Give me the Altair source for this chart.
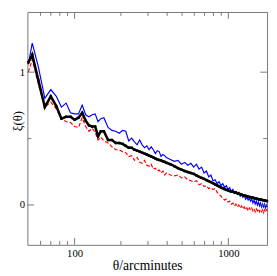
import altair as alt
import pandas as pd

theta = [50, 53, 58, 64, 70, 76, 82, 88, 94, 100, 106, 112, 118, 124, 130, 136, 142, 148,
         155, 165, 175, 185, 195, 205, 215, 225, 235, 245, 255, 265, 275, 285, 295, 305, 315,
         325, 335, 345, 355, 365, 375, 385, 395,
         420, 445, 470, 495, 520, 545, 570, 595, 620, 645, 670, 695, 720, 745, 770, 795, 820,
         845, 870, 895, 920, 945, 970, 995, 1020, 1045, 1070, 1095, 1120, 1145, 1170, 1195,
         1220, 1245, 1270, 1295, 1320, 1345, 1370, 1395, 1420, 1445, 1470, 1495, 1520, 1545,
         1570, 1595, 1620, 1645, 1670, 1695, 1720, 1745, 1770, 1785]

xi_blue = [1.058, 1.219, 1.044, 0.803, 0.869, 0.818, 0.737, 0.767, 0.694, 0.686, 0.686, 0.752,
           0.679, 0.664, 0.679, 0.686, 0.628, 0.650,
           0.657, 0.584, 0.562, 0.555, 0.540, 0.562, 0.555, 0.482, 0.504, 0.475, 0.453, 0.489,
           0.453, 0.431, 0.445, 0.416, 0.438, 0.416, 0.387, 0.409, 0.402, 0.365, 0.380, 0.372, 0.358,
           0.343, 0.329, 0.336, 0.307, 0.321, 0.299, 0.314, 0.285, 0.307, 0.270,
           0.285, 0.241, 0.256, 0.212, 0.226, 0.183, 0.190, 0.161, 0.175, 0.146,
           0.161, 0.131, 0.146, 0.117, 0.131, 0.102, 0.117, 0.088, 0.102, 0.080,
           0.095, 0.066, 0.080, 0.058, 0.073, 0.044, 0.058, 0.037, 0.051, 0.029,
           0.044, 0.015, 0.037, 0.007, 0.029, 0.000, 0.022, -0.007, 0.015, -0.015,
           0.007, -0.015, 0.007, -0.022, 0.000, -0.015]

xi_black = [1.073, 1.132, 0.942, 0.737, 0.818, 0.745, 0.650, 0.664, 0.664, 0.642, 0.657, 0.694,
            0.635, 0.599, 0.591, 0.591, 0.518, 0.555,
            0.555, 0.489, 0.489, 0.467, 0.467, 0.460, 0.445, 0.431, 0.431, 0.416, 0.409, 0.402,
            0.394, 0.387, 0.380, 0.372, 0.365, 0.358, 0.350, 0.343, 0.339, 0.336, 0.329, 0.325, 0.318,
            0.307, 0.292, 0.277, 0.266, 0.256, 0.248, 0.241, 0.234, 0.223, 0.212,
            0.204, 0.197, 0.188, 0.179, 0.172, 0.164, 0.155, 0.148, 0.140, 0.133,
            0.126, 0.120, 0.114, 0.110, 0.105, 0.102, 0.099, 0.096, 0.093, 0.089,
            0.085, 0.082, 0.078, 0.074, 0.072, 0.069, 0.066, 0.063, 0.061, 0.058,
            0.056, 0.054, 0.052, 0.050, 0.048, 0.046, 0.044, 0.042, 0.041, 0.039,
            0.037, 0.036, 0.034, 0.032, 0.031, 0.029]

xi_red = [1.000, 1.095, 0.913, 0.737, 0.774, 0.723, 0.650, 0.628, 0.621, 0.591, 0.584, 0.657,
          0.591, 0.555, 0.577, 0.548, 0.489, 0.511,
          0.482, 0.467, 0.438, 0.416, 0.416, 0.402, 0.394, 0.365, 0.372, 0.336, 0.358, 0.321,
          0.314, 0.336, 0.299, 0.292, 0.307, 0.270, 0.277, 0.256, 0.263, 0.241, 0.256, 0.226, 0.241,
          0.226, 0.219, 0.226, 0.204, 0.212, 0.190, 0.183, 0.175, 0.183, 0.153,
          0.161, 0.139, 0.146, 0.124, 0.131, 0.117, 0.124, 0.095, 0.080, 0.066,
          0.051, 0.037, 0.044, 0.022, 0.029, 0.007, 0.015, -0.007, 0.007, -0.015,
          0.000, -0.022, -0.007, -0.029, -0.015, -0.036, -0.022, -0.044, -0.022, -0.036,
          -0.022, -0.044, -0.029, -0.051, -0.029, -0.044, -0.029, -0.051, -0.036, -0.051,
          -0.036, -0.058, -0.036, -0.051, -0.036, -0.044]

x_major = [100, 1000]
x_minor = [60, 70, 80, 90, 200, 300, 400, 500, 600, 700, 800, 900]
y_major = [0, 1]
y_minor = [0.5]

W, H = 247, 240
FONT = "Liberation Serif"
FRAME = "#777777"

xscale = alt.Scale(type="log", domain=[49.3, 1786], nice=False)
yscale = alt.Scale(domain=[-0.3, 1.453], nice=False, zero=False)

xaxis = alt.Axis(values=x_major, format="d", title="θ/arcminutes", ticks=False,
                 domain=False, grid=False, labelFont=FONT, labelFontSize=11,
                 labelColor="black", labelPadding=3, titleFont=FONT,
                 titleFontSize=14, titleFontWeight="normal", titleColor="black",
                 titleY=25, titleBaseline="alphabetic")
yaxis = alt.Axis(values=y_major, title="ξ(θ)", ticks=False, domain=False, grid=False,
                 labelFont=FONT, labelFontSize=11, labelColor="black", labelPadding=3,
                 titleFont=FONT, titleFontSize=13, titleFontWeight="normal",
                 titleColor="black", titleX=-3, titleY=112)

df = pd.DataFrame({"theta": theta, "blue": xi_blue, "black": xi_black, "red": xi_red})


def line(field, **kw):
    return alt.Chart(df).mark_line(**kw).encode(
        x=alt.X("theta:Q", scale=xscale, axis=xaxis),
        y=alt.Y(f"{field}:Q", scale=yscale, axis=yaxis))


blue_line = line("blue", color="#0000ff", strokeWidth=1.2)
red_line = line("red", color="#ff0000", strokeWidth=1.2, strokeDash=[4, 2])
black_line = line("black", color="black", strokeWidth=2.6,
                  point=alt.OverlayMarkDef(shape="square", size=6, filled=True, color="black"))


def xticks(vals, y0, y1):
    d = pd.DataFrame({"theta": vals})
    return alt.Chart(d).mark_rule(color=FRAME, strokeWidth=1).encode(
        x=alt.X("theta:Q", scale=xscale, axis=xaxis), y=alt.value(y0), y2=alt.value(y1))


def yticks(vals, x0, x1):
    d = pd.DataFrame({"v": vals})
    return alt.Chart(d).mark_rule(color=FRAME, strokeWidth=1).encode(
        y=alt.Y("v:Q", scale=yscale, axis=yaxis), x=alt.value(x0), x2=alt.value(x1))


ticks = [
    xticks(x_major, H, H - 7), xticks(x_minor, H, H - 4),
    xticks(x_major, 0, 7), xticks(x_minor, 0, 4),
    yticks(y_major, 0, 7), yticks(y_minor, 0, 4),
    yticks(y_major, W, W - 7), yticks(y_minor, W, W - 4),
]

chart = alt.layer(blue_line, red_line, black_line, *ticks).properties(
    width=W, height=H,
    autosize=alt.AutoSizeParams(type="none"),
    padding={"left": 20, "top": 0, "right": 2, "bottom": 28},
).configure_view(stroke=FRAME, strokeWidth=1)

chart.save("out.html", embed_options={"renderer": "svg", "actions": False})
